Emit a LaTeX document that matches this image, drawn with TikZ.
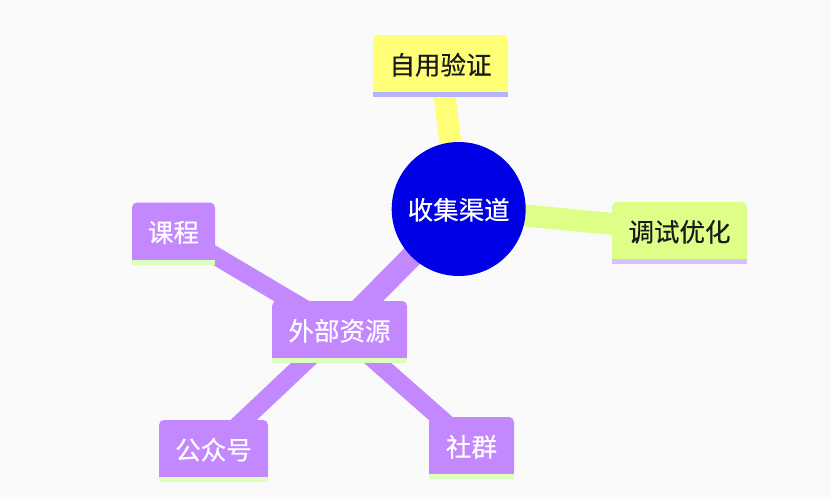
\documentclass[tikz,border=0pt]{standalone}
\usepackage{fontspec}
\newfontfamily\cjk[FakeBold=0.4]{Noto Sans CJK SC}
\usetikzlibrary{backgrounds}
\definecolor{bgc}{HTML}{FAFAFA}
\definecolor{yelc}{HTML}{FFFF77}
\definecolor{grnc}{HTML}{DDFF88}
\definecolor{purc}{HTML}{C488FE}
\definecolor{bluc}{HTML}{0000E6}
\definecolor{barA}{HTML}{B3B3FF}
\definecolor{barB}{HTML}{D2C2FF}
\definecolor{barC}{HTML}{DDFFBB}
\definecolor{txtc}{HTML}{1A1A1A}
\tikzset{
  topic/.style={rectangle, rounded corners=5pt, inner sep=0pt, minimum height=57pt,
    text height=22pt, text depth=0pt,
    font=\cjk\fontsize{25.5}{30}\selectfont},
  rootnode/.style={circle, fill=bluc, inner sep=0pt, minimum size=134pt, text=white,
    text height=21pt, text depth=0pt,
    font=\cjk\fontsize{25.5}{30}\selectfont},
  link/.style={line width=#1, line cap=butt},
}
\newcommand{\sqbottom}[3]{%
  \fill[#2] ([yshift=6pt]#1.south west) rectangle (#1.south east);
  \fill[#3] (#1.south west) rectangle ([yshift=-5pt]#1.south east);
}
\begin{document}
\begin{tikzpicture}[x=1pt,y=-1pt]
\useasboundingbox (0,0) rectangle (831,499);
% nodes
\node[rootnode] (c) at (458.7,209) {收集渠道};
\node[topic, fill=yelc, text=txtc, minimum width=135pt] (zy) at (440.5,63.5) {自用验证};
\node[topic, fill=grnc, text=txtc, minimum width=135pt] (ts) at (679.5,230.5) {调试优化};
\node[topic, fill=purc, text=white, minimum width=135pt] (wb) at (339.5,329.5) {外部资源};
\node[topic, fill=purc, text=white, minimum width=83pt] (kc) at (173.5,231) {课程};
\node[topic, fill=purc, text=white, minimum width=109pt] (gz) at (213.5,448.5) {公众号};
\node[topic, fill=purc, text=white, minimum width=85pt] (sq) at (471.5,445.5) {社群};
\sqbottom{zy}{yelc}{barA}
\sqbottom{ts}{grnc}{barB}
\sqbottom{wb}{purc}{barC}
\sqbottom{kc}{purc}{barC}
\sqbottom{gz}{purc}{barC}
\sqbottom{sq}{purc}{barC}
% connectors
\begin{scope}[on background layer]
\fill[bgc] (0,0) rectangle (831,499);
\draw[link=22pt, yelc] (c.center) -- (zy.center);
\draw[link=22pt, grnc] (c.center) -- (ts.center);
\draw[link=22pt, purc] (c.center) -- (wb.center);
\draw[link=18pt, purc] (wb.center) -- (kc.center);
\draw[link=18pt, purc] (wb.center) -- (gz.center);
\draw[link=18pt, purc] (wb.center) -- (sq.center);
\end{scope}
\end{tikzpicture}
\end{document}
